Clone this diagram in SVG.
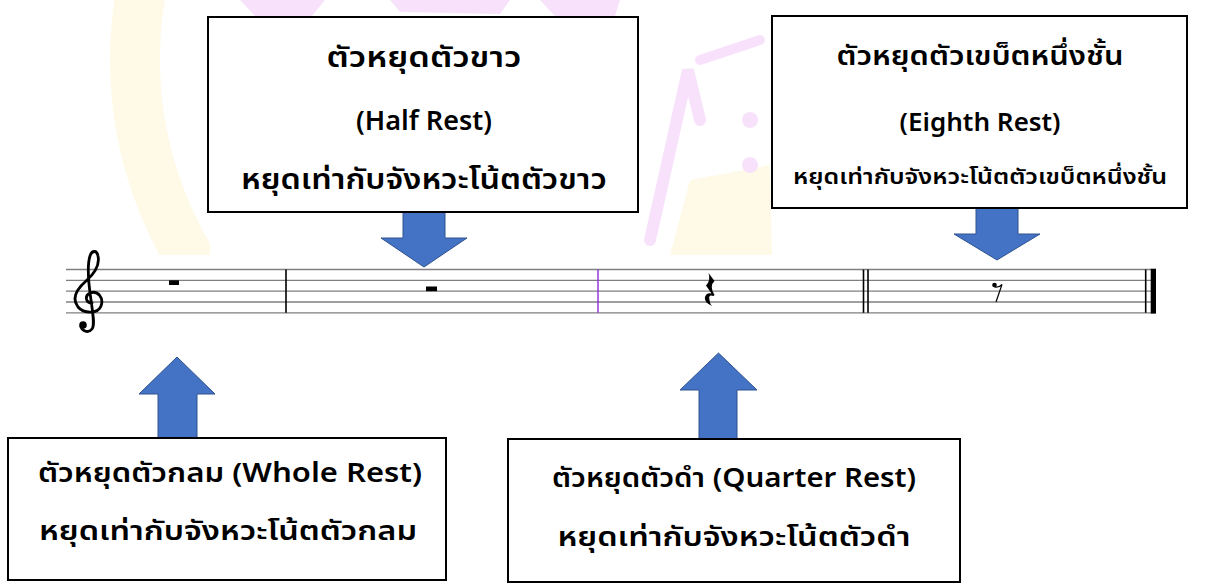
<svg xmlns="http://www.w3.org/2000/svg" width="1205" height="585" viewBox="0 0 1205 585">
<defs>
  <clipPath id="wmclip"><rect x="0" y="0" width="1205" height="255"/></clipPath>
  <clipPath id="leftclip"><rect x="0" y="0" width="210" height="255"/></clipPath>
</defs>
<style>
.box{fill:#fff;stroke:#000;stroke-width:2}
.arrow{fill:#4472C4;stroke:#2F528F;stroke-width:1}
.t{font-family:"Noto Sans Thai","Leelawadee UI",Tahoma,"Noto Sans",sans-serif;fill:#000;text-anchor:middle;font-weight:600}
.staff{stroke:#7f7f7f;stroke-width:1.3}
.bar{stroke:#000;stroke-width:1.6}
.wy{fill:#FFFAE8}
.wp{fill:#F8E2FB}
.ws{stroke:#F8E2FB;fill:none;stroke-linecap:round}
</style>
<rect width="1205" height="585" fill="#fff"/>
<g id="watermark" clip-path="url(#wmclip)">
  <circle cx="520" cy="60" r="385" fill="none" stroke="#FFFAE8" stroke-width="50" clip-path="url(#leftclip)"/>
  <polygon class="wy" points="690,180 770,165 772,255 670,255"/>
  <polygon class="wp" points="240,0 325,0 312,16 255,16"/>
  <polygon class="wp" points="390,0 510,0 500,14 400,12"/>
  <polygon class="wp" points="540,0 620,0 615,16 555,16"/>
  <path class="ws" d="M650,240 L688,70 L700,120" stroke-width="12"/>
  <path class="ws" d="M700,60 L760,40" stroke-width="10"/>
  <circle class="wp" cx="750" cy="120" r="8"/>
  <circle class="wp" cx="750" cy="165" r="8"/>
</g>
<g id="staff">
  <g class="staff">
    <line x1="66" y1="269.5" x2="1156" y2="269.5"/>
    <line x1="66" y1="280.3" x2="1156" y2="280.3"/>
    <line x1="66" y1="291.2" x2="1156" y2="291.2"/>
    <line x1="66" y1="302" x2="1156" y2="302"/>
    <line x1="66" y1="312.8" x2="1156" y2="312.8"/>
  </g>
  <line class="bar" x1="286" y1="269.5" x2="286" y2="312.8"/>
  <line x1="598" y1="269.5" x2="598" y2="312.8" stroke="#8A2BE2" stroke-width="1.4"/>
  <line class="bar" x1="863.5" y1="269.5" x2="863.5" y2="312.8"/>
  <line class="bar" x1="868" y1="269.5" x2="868" y2="312.8"/>
  <line class="bar" x1="1145.7" y1="269.5" x2="1145.7" y2="312.8"/>
  <rect x="1150.7" y="268.8" width="5.3" height="44.7" fill="#000"/>
  <g id="clef" fill="none" stroke="#000" stroke-linecap="round">
    <path d="M92,303 C86,303 84,296 90,293 C98,290 104,298 101,306 C98,314 84,314 78,307 C71,298 78,288 86,281 C95,273 100,265 98,256 C97,250 92,250 90,256 C87,265 88,280 91,300 C93,315 95,325 92,329 C89,333 83,332 81,327" stroke-width="2.8"/>
    <circle cx="83" cy="325" r="3.8" fill="#000" stroke="none"/>
  </g>
  <rect id="whole-rest" x="169" y="280.3" width="10" height="4.7" fill="#000"/>
  <rect id="half-rest" x="426" y="286.5" width="11" height="4.7" fill="#000"/>
  <path id="quarter-rest" d="M708.5,273 L714.5,281 Q709,286 714.5,295 L713.5,296 Q708,294 709.5,300 Q710,304 712,306 Q703.5,302 705,297 Q706.5,292 711.5,293.5 L706,285.5 Q711,280 708.5,273 Z" fill="#000"/>
  <g id="eighth-rest">
    <circle cx="994.5" cy="285" r="2.3" fill="#000"/>
    <path d="M994.5,287 Q998.5,288 1002,284.5 L996,302" fill="none" stroke="#000" stroke-width="1.2"/>
  </g>
</g>
<g id="connectors">
  <path class="arrow" d="M403,212 H445 V238 H467 L424,267 L381,238 H403 Z"/>
  <path class="arrow" d="M976,208 H1018 V234 H1040 L997,260 L954,234 H976 Z"/>
  <path class="arrow" d="M158,438 V394 H139 L177,357 L215,394 H197 V438 Z"/>
  <path class="arrow" d="M699,439 V390 H680 L718.5,353 L757,390 H737 V439 Z"/>
</g>
<g id="half-box">
  <rect class="box" x="208" y="17" width="430" height="195"/>
  <text class="t" x="424" y="67" font-size="28" textLength="195" lengthAdjust="spacingAndGlyphs">ตัวหยุดตัวขาว</text>
  <text class="t" x="424" y="130" font-size="27">(Half Rest)</text>
  <text class="t" x="424" y="189" font-size="28" textLength="366" lengthAdjust="spacingAndGlyphs">หยุดเท่ากับจังหวะโน้ตตัวขาว</text>
</g>
<g id="eighth-box">
  <rect class="box" x="772" y="16" width="415" height="192"/>
  <text class="t" x="980" y="65" font-size="27" textLength="287" lengthAdjust="spacingAndGlyphs">ตัวหยุดตัวเขบ็ตหนึ่งชั้น</text>
  <text class="t" x="980" y="131" font-size="26">(Eighth Rest)</text>
  <text class="t" x="980" y="184" font-size="21" textLength="374" lengthAdjust="spacingAndGlyphs">หยุดเท่ากับจังหวะโน้ตตัวเขบ็ตหนึ่งชั้น</text>
</g>
<g id="whole-box">
  <rect class="box" x="8" y="438" width="438" height="142"/>
  <text class="t" x="230" y="482" font-size="27" textLength="384" lengthAdjust="spacingAndGlyphs">ตัวหยุดตัวกลม (Whole Rest)</text>
  <text class="t" x="228" y="540" font-size="27" textLength="378" lengthAdjust="spacingAndGlyphs">หยุดเท่ากับจังหวะโน้ตตัวกลม</text>
</g>
<g id="quarter-box">
  <rect class="box" x="508" y="439" width="452" height="143"/>
  <text class="t" x="734" y="487" font-size="27" textLength="364" lengthAdjust="spacingAndGlyphs">ตัวหยุดตัวดำ (Quarter Rest)</text>
  <text class="t" x="734" y="546" font-size="27" textLength="353" lengthAdjust="spacingAndGlyphs">หยุดเท่ากับจังหวะโน้ตตัวดำ</text>
</g>
</svg>
